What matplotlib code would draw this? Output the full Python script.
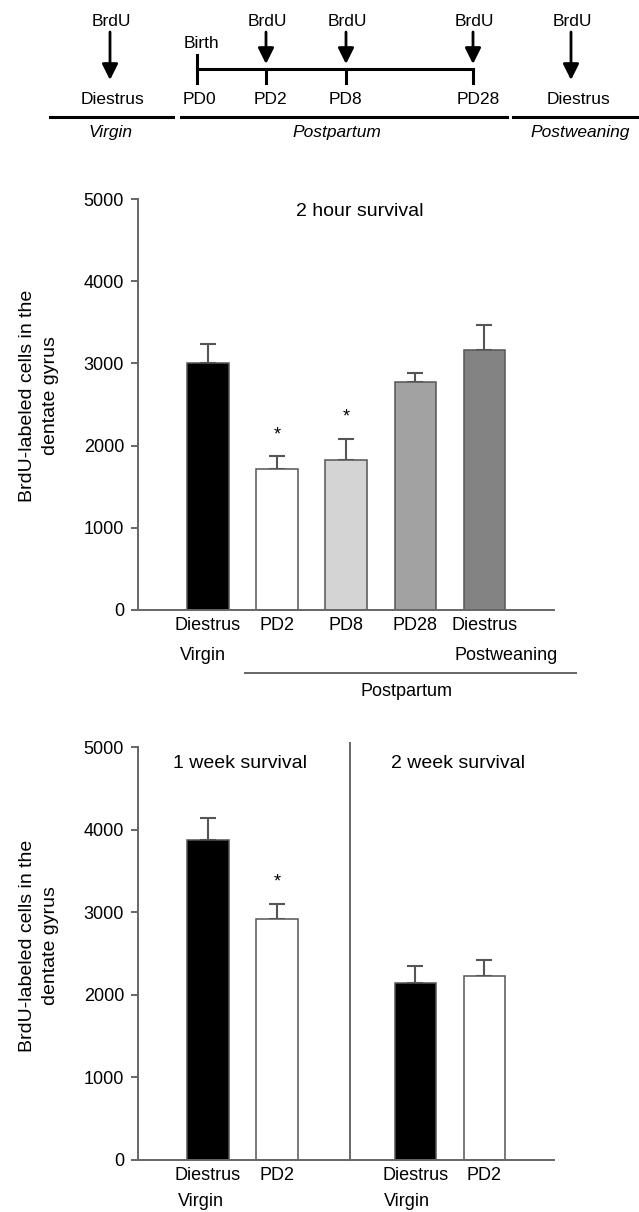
import numpy as np
from matplotlib import pyplot as plt

plt.rcParams['font.family'] = ['Liberation Sans', 'DejaVu Sans']

W, H = 639, 1212

# 2 hour survival
groups_2h = ["Diestrus", "PD2", "PD8", "PD28", "Diestrus"]
means_2h = [3000, 1710, 1830, 2775, 3160]
sem_2h = [240, 160, 255, 112, 310]
colors_2h = ["#000000", "#ffffff", "#d4d4d4", "#a2a2a2", "#838383"]
star_2h = [False, True, True, False, False]

# 1 week / 2 week survival
groups_wk = ["Diestrus", "PD2", "Diestrus", "PD2"]
means_wk = [3870, 2922, 2145, 2226]
sem_wk = [272, 180, 202, 201]
colors_wk = ["#000000", "#ffffff", "#000000", "#ffffff"]
star_wk = [False, True, False, False]
pos_wk = [0, 1, 3, 4]

ylab = "BrdU-labeled cells in the\ndentate gyrus"
edge = "#555555"
axcol = "#666666"
fs_tick = 13
fs_title = 14


def px_axes(fig, l, t, r, b):
    return fig.add_axes([l / W, 1 - b / H, (r - l) / W, (b - t) / H])


def style(ax):
    ax.spines['top'].set_visible(False)
    ax.spines['right'].set_visible(False)
    for s in ['left', 'bottom']:
        ax.spines[s].set_color(axcol)
        ax.spines[s].set_linewidth(1.4)
    ax.set_ylim(0, 5000)
    ax.set_yticks([0, 1000, 2000, 3000, 4000, 5000])
    ax.tick_params(axis='y', length=5, width=1.4, color=axcol, labelsize=fs_tick, pad=5)
    ax.tick_params(axis='x', length=0, labelsize=fs_tick, pad=5)
    ax.set_xlim(-1.013, 5.007)


def bars(ax, x, means, sem, colors, stars):
    ax.bar(x, means, width=0.6, color=colors, edgecolor=edge, linewidth=1.1, zorder=2)
    ax.errorbar(x, means, yerr=[np.zeros(len(sem)), sem], fmt='none',
                ecolor=edge, elinewidth=1.5, capsize=6, capthick=1.5, zorder=1)
    for xi, m, s, st in zip(x, means, sem, stars):
        if st:
            ax.text(xi, m + s + 265, "*", ha='center', va='center', fontsize=13)


fig = plt.figure(figsize=(W / 100, H / 100), dpi=100)

# middle chart
ax1 = px_axes(fig, 138, 199, 554, 610)
x1 = np.arange(len(means_2h))
bars(ax1, x1, means_2h, sem_2h, colors_2h, star_2h)
ax1.set_xticks(x1)
ax1.set_xticklabels(groups_2h)
style(ax1)

# bottom chart
ax2 = px_axes(fig, 138, 747, 554, 1160)
bars(ax2, pos_wk, means_wk, sem_wk, colors_wk, star_wk)
ax2.set_xticks(pos_wk)
ax2.set_xticklabels(groups_wk)
style(ax2)
ax2.axvline(2.06, ymin=0, ymax=1.01, color=axcol, lw=1.4, clip_on=False)

# overlay for titles, timeline and group brackets (pixel coords)
ov = fig.add_axes([0, 0, 1, 1])
ov.set_xlim(0, W)
ov.set_ylim(H, 0)
ov.axis('off')
ov.patch.set_alpha(0)

ov.text(360, 212, "2 hour survival", ha='center', va='center', fontsize=fs_title)
ov.text(240, 763, "1 week survival", ha='center', va='center', fontsize=fs_title)
ov.text(458, 763, "2 week survival", ha='center', va='center', fontsize=fs_title)
for yc in [396, 946]:
    ov.text(39, yc, ylab, ha='center', va='center', rotation=90, fontsize=14,
            linespacing=1.45, multialignment='center')

# second line of tick labels, bracket
ov.text(180, 656, "Virgin", ha='left', va='center', fontsize=fs_tick)
ov.text(455, 656, "Postweaning", ha='left', va='center', fontsize=fs_tick)
ov.plot([245, 576], [673, 673], color=axcol, lw=1.4)
ov.text(406, 692, "Postpartum", ha='center', va='center', fontsize=fs_tick)
ov.text(178, 1202, "Virgin", ha='left', va='center', fontsize=fs_tick)
ov.text(384, 1202, "Virgin", ha='left', va='center', fontsize=fs_tick)

# timeline
fs = 12.5
tl_labels = ["Diestrus", "PD0", "PD2", "PD8", "PD28", "Diestrus"]
tl_x = [110, 197, 266, 346, 473, 571]
tl_lab_x = [112, 199, 270, 345, 478, 579]
brdu = [True, False, True, True, True, True]
line_y = 69
for lab, xx, lx, b in zip(tl_labels, tl_x, tl_lab_x, brdu):
    ov.text(lx, 99, lab, ha='center', va='center', fontsize=fs)
    if b:
        ov.text(xx + 1, 21, "BrdU", ha='center', va='center', fontsize=fs)
        end = 80 if lab == "Diestrus" else 64
        ov.annotate("", xy=(xx, end), xytext=(xx, 32),
                    arrowprops=dict(arrowstyle='-|>,head_length=0.6,head_width=0.3',
                                    color='black', lw=2, mutation_scale=16,
                                    shrinkA=0, shrinkB=0))
ov.plot([197, 473], [line_y, line_y], color='black', lw=2.2)
for xx in tl_x[1:5]:
    top = 55 if xx == 197 else line_y
    ov.plot([xx, xx], [top, 83], color='black', lw=2.2)
ov.text(184, 44, "Birth", ha='left', va='center', fontsize=fs)
for x0, x1_, lab, xc in [(50, 173, "Virgin", 111), (181, 507, "Postpartum", 337),
                         (513, 639, "Postweaning", 580)]:
    ov.plot([x0, x1_], [117, 117], color='black', lw=2.2)
    ov.text(xc, 132, lab, ha='center', va='center', fontsize=fs, style='italic')

fig.savefig("out.png", dpi=100)
